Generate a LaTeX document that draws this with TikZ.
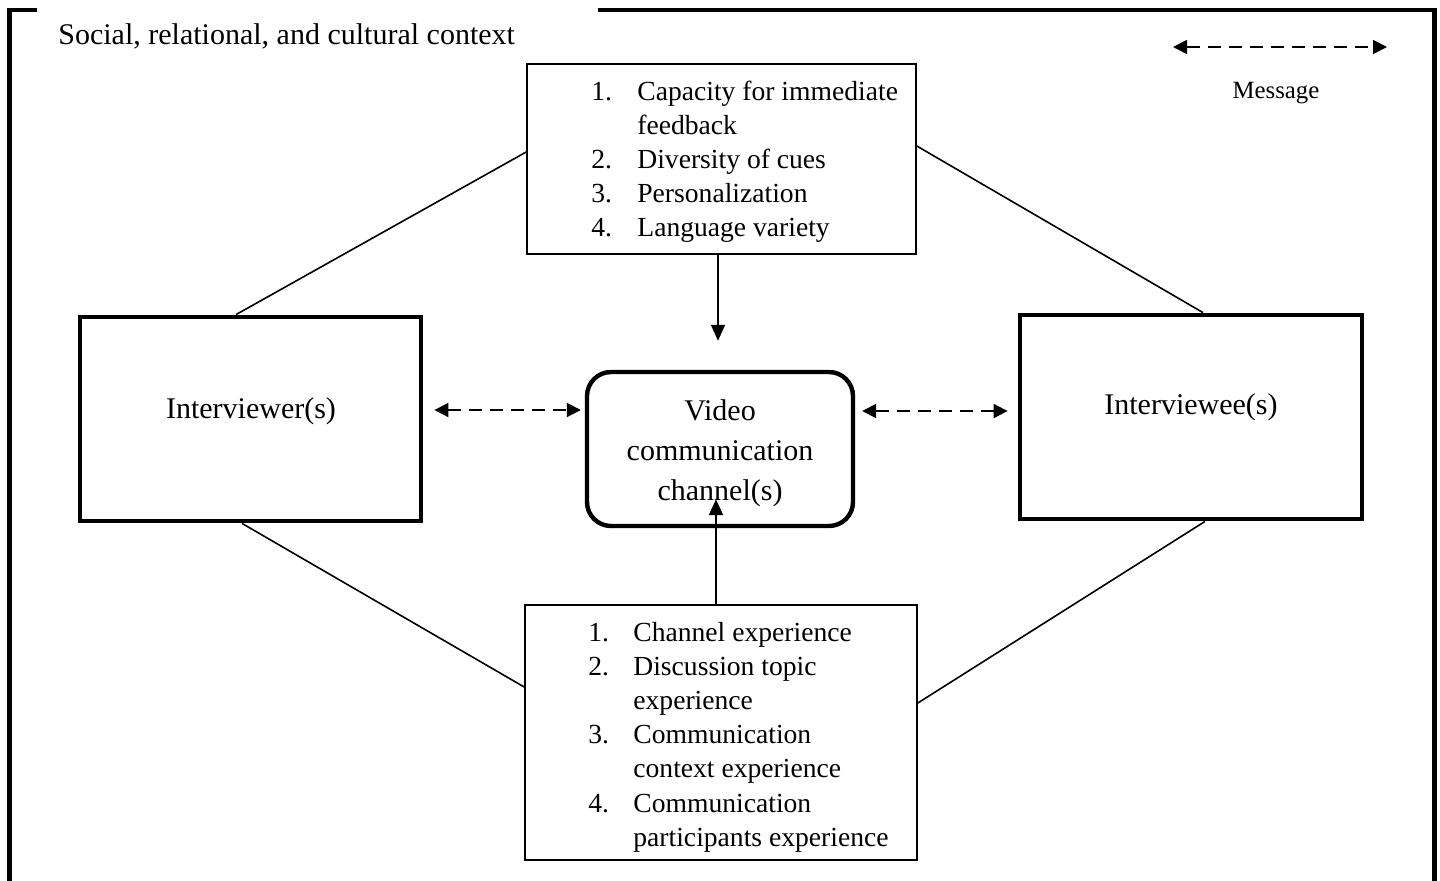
\documentclass[tikz,border=0pt]{standalone}
\usepackage{fontspec}
\setmainfont{Liberation Serif}
\usetikzlibrary{arrows.meta,calc}
\begin{document}
\begin{tikzpicture}[x=0.5pt,y=-0.5pt,
  frameline/.style={line width=2.4pt},
  actor/.style={draw, line width=2.4pt, inner sep=0pt},
  channel/.style={draw, line width=2.2pt, rounded corners=12pt, inner sep=0pt,
    minimum width=133pt, minimum height=77pt, align=center,
    font=\fontsize{15}{20}\selectfont},
  listbox/.style={draw, line width=0.8pt, inner sep=0pt},
  bigtext/.style={anchor=base, inner sep=0pt, font=\fontsize{15}{18}\selectfont},
  listtext/.style={anchor=base west, inner sep=0pt, font=\fontsize{13.8}{17.1}\selectfont},
  conn/.style={line width=0.8pt},
  arr/.style={line width=0.9pt, -{Triangle[length=8pt,width=7pt]}},
  msg/.style={line width=0.9pt, dash pattern=on 6.5pt off 4pt,
    {Triangle[length=7pt,width=7pt]}-{Triangle[length=7pt,width=7pt]}}
]
\useasboundingbox (0,0) rectangle (1440,880);

% outer frame (open at the bottom, gap for the title)
\draw[frameline] (37,10) -- (9.5,10) -- (9.5,900);
\draw[frameline] (598,10) -- (1434.5,10) -- (1434.5,900);
\node[anchor=base west, inner sep=0pt, font=\fontsize{15}{18}\selectfont] (title) at (58,44)
  {Social, relational, and cultural context};

% legend
\coordinate (legA) at (1173,47);
\coordinate (legB) at (1387,47);
\draw[msg] (legA) -- (legB);
\node[anchor=base, inner sep=0pt, font=\fontsize{12.4}{15}\selectfont] (msglabel) at (1276,98) {Message};

% boxes
\node[listbox, minimum width=194.5pt, minimum height=95pt] (top) at (721.5,159) {};
\node[listtext] (toptext) at (591,100)
  {\begin{tabular}[t]{@{}p{23pt}@{}l@{}}
   1.&Capacity for immediate\\
     &feedback\\
   2.&Diversity of cues\\
   3.&Personalization\\
   4.&Language variety
   \end{tabular}};

\node[listbox, minimum width=196pt, minimum height=127.5pt] (bot) at (721,732.5) {};
\node[listtext] (bottext) at (588,641)
  {\begin{tabular}[t]{@{}p{22.5pt}@{}l@{}}
   1.&Channel experience\\
   2.&Discussion topic\\
     &experience\\
   3.&Communication\\
     &context experience\\
   4.&Communication\\
     &participants experience
   \end{tabular}};

\node[actor, minimum width=170.5pt, minimum height=102pt] (ier) at (250.5,419) {};
\node[bigtext] (iertext) at (251,418) {Interviewer(s)};

\node[actor, minimum width=171pt, minimum height=102pt] (iee) at (1191,417) {};
\node[bigtext] (ieetext) at (1191,414) {Interviewee(s)};

\node[channel] (vcc) at (720,449) {\rule{0pt}{14.5pt}Video\\communication\\channel(s)};

% diagonal connectors
\draw[conn] ([yshift=3.5pt]top.west) -- ([xshift=-7.25pt]ier.north);
\draw[conn] ([yshift=6.5pt]top.east) -- ([xshift=6pt]iee.north);
\draw[conn] ([xshift=-4.25pt]ier.south) -- ([yshift=22.75pt]bot.west);
\draw[conn] ([xshift=7pt]iee.south) -- ([yshift=14.75pt]bot.east);

% influence arrows
\draw[arr, shorten >=14.5pt] ([xshift=-1.75pt]top.south) -- ([xshift=-1.75pt]top.south |- vcc.north);
\draw[arr, shorten >=-14.5pt] ([xshift=-2.5pt]bot.north) -- ([xshift=-2.5pt]bot.north |- vcc.south);

% message arrows
\draw[msg] ($(ier.east)+(5.5pt,4.5pt)$) -- ($(ier.east -| vcc.west)+(-2pt,4.5pt)$);
\draw[msg] ($(vcc.east |- iee.west)+(3.5pt,3pt)$) -- ($(iee.west)+(-5pt,3pt)$);
\end{tikzpicture}
\end{document}
